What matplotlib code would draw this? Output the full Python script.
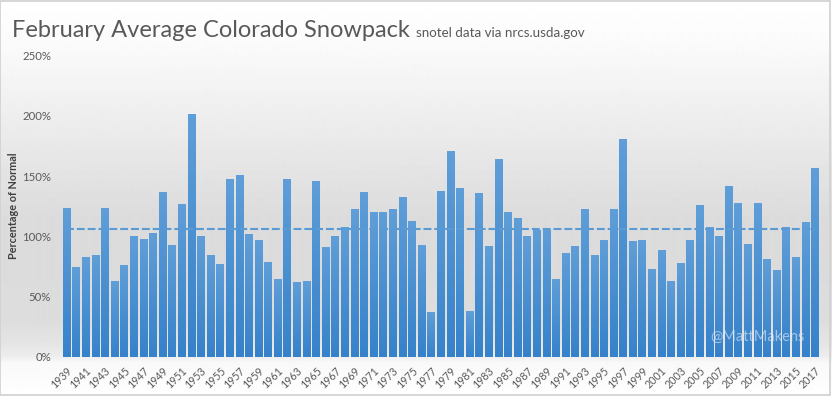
import matplotlib
import numpy as np

matplotlib.use("Agg")
import matplotlib.pyplot as plt
from matplotlib.colors import LinearSegmentedColormap
from matplotlib.patches import Rectangle

plt.rcParams["font.family"] = ["Lato", "DejaVu Sans"]

YEARS = list(range(1939, 2018))
PCT_OF_NORMAL = [
    123.5, 74.5, 82.8, 84.4, 123.5, 62.8, 76.1, 100.2, 97.7, 102.7,
    136.8, 92.7, 126.8, 201.5, 100.2, 84.4, 77.0, 147.6, 150.9, 101.9,
    96.9, 78.6, 64.5, 147.6, 62.0, 62.8, 145.9, 91.1, 100.2, 107.7,
    122.6, 136.8, 120.2, 120.2, 122.6, 132.6, 112.7, 92.7, 37.1, 137.6,
    170.8, 140.1, 37.9, 135.9, 91.9, 164.2, 120.2, 115.2, 100.2, 105.2,
    105.2, 64.5, 86.1, 91.9, 122.6, 84.4, 96.9, 122.6, 180.8, 96.1,
    96.9, 72.8, 88.6, 62.8, 77.8, 96.9, 126.0, 107.7, 100.2, 141.7,
    127.6, 93.6, 127.6, 81.1, 72.0, 107.7, 82.8, 111.8, 156.7,
]
Y_TICKS = [0, 50, 100, 150, 200, 250]

TEXT_GREY = "#595959"
BAR_TOP = "#5f9ed8"
BAR_BOTTOM = "#3682ca"
AVG_COLOR = "#5b9bd5"

W, H = 832, 396
fig = plt.figure(figsize=(W / 100, H / 100), dpi=100)

# background gradient over the whole chart (white at top, grey in the middle)
bg = fig.add_axes([0, 0, 1, 1], zorder=-10)
bg.set_axis_off()
stops_y = [0, 40, 120, 220, 320, 345, 356, 362, 396]
stops_v = [1.0, 0.985, 0.93, 0.86, 0.865, 0.9, 0.93, 0.975, 1.0]
rows = np.interp(np.arange(H), stops_y, stops_v)
bg.imshow(np.repeat(rows[:, None], 2, axis=1), cmap="gray", vmin=0, vmax=1,
          aspect="auto", extent=(0, 1, 0, 1), interpolation="bilinear")
bg.set_xlim(0, 1)
bg.set_ylim(0, 1)
bg.add_patch(Rectangle((0.0006, 0.0013), 0.9975, 0.9962, fill=False,
                       edgecolor="#d0d0d0", linewidth=1.2))

ax_left, ax_right = 61.5, 819.5
ax_top, ax_bot = 55.7, 356.7
ax = fig.add_axes([ax_left / W, (H - ax_bot) / H,
                   (ax_right - ax_left) / W, (ax_bot - ax_top) / H])
ax.patch.set_alpha(0)

x = np.arange(len(YEARS))
bars = ax.bar(x, PCT_OF_NORMAL, width=0.73, color=BAR_BOTTOM, zorder=2)
cmap = LinearSegmentedColormap.from_list("bar", [BAR_BOTTOM, BAR_TOP])
grad = np.linspace(0, 1, 64)[:, None]
for b in bars:
    x0, y0 = b.get_x(), b.get_y()
    im = ax.imshow(grad, cmap=cmap, origin="lower", aspect="auto",
                   extent=(x0, x0 + b.get_width(), y0, y0 + b.get_height()),
                   zorder=2.5, interpolation="bilinear")
    im.set_clip_path(b)

avg = float(np.mean(PCT_OF_NORMAL))
ax.plot([x[0], x[-1]], [avg, avg], color=AVG_COLOR, linewidth=1.5,
        dashes=(3.8, 1.4), zorder=3)

ax.set_xlim(-0.5, len(YEARS) - 0.5)
ax.set_ylim(0, 250)
ax.set_yticks(Y_TICKS)
ax.set_yticklabels([f"{t}%" for t in Y_TICKS])
ax.set_xticks(x[::2])
ax.set_xticklabels([str(y) for y in YEARS[::2]], rotation=45, ha="right",
                   rotation_mode="anchor")
ax.tick_params(axis="both", length=0, colors=TEXT_GREY, labelsize=7.7)
ax.tick_params(axis="y", labelsize=8.2, pad=7.5)
ax.tick_params(axis="x", pad=6)
for s in ax.spines.values():
    s.set_visible(False)

ax.set_ylabel("Percentage of Normal", fontsize=7.8, fontweight="bold",
              color="#404040")
ax.yaxis.set_label_coords(-0.056, 0.5)

fig.text(12 / W, 1 - 37 / H, "February Average Colorado Snowpack",
         fontsize=17, color=TEXT_GREY, ha="left", va="baseline")
fig.text(416 / W, 1 - 37 / H, "snotel data via nrcs.usda.gov",
         fontsize=9.6, color=TEXT_GREY, ha="left", va="baseline")

ax.text(0.981, 0.065, "@MattMakens", transform=ax.transAxes, ha="right",
        va="center", fontsize=10.5, color="#e6eef8", alpha=0.6, zorder=4)

fig.savefig("out.png", dpi=100)
